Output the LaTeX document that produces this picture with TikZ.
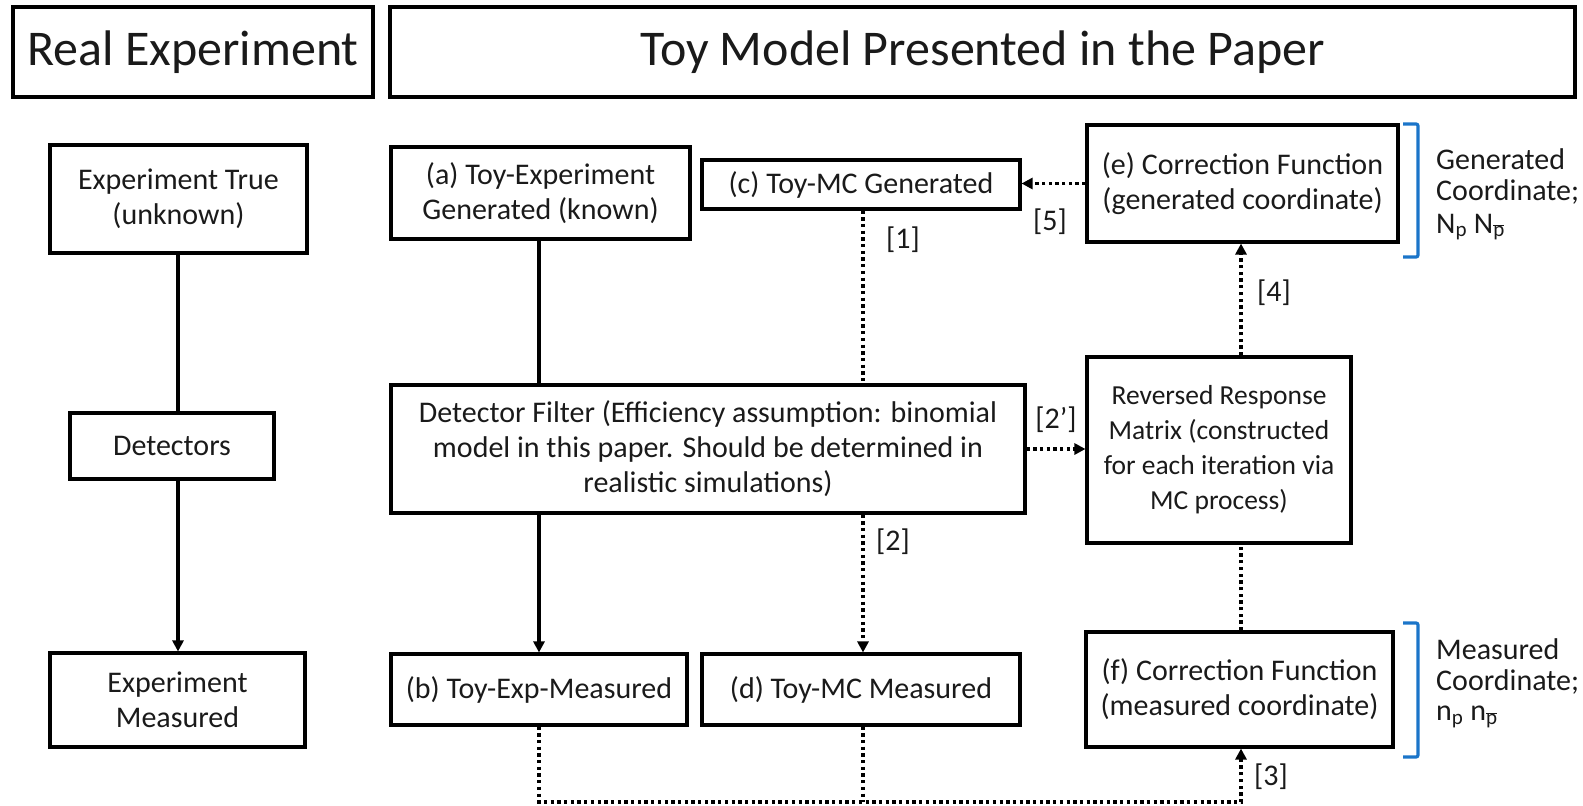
\documentclass[tikz,border=0pt]{standalone}
\usepackage{fontspec}
\setmainfont{Carlito}
\usetikzlibrary{arrows.meta}
\definecolor{brblue}{HTML}{1B75C9}
\definecolor{txt}{HTML}{1A1A1A}
\newcommand{\boxfont}{\fontsize{30}{35}\selectfont}
\newcommand{\rrmfont}{\fontsize{27.5}{35}\selectfont}
\newcommand{\hdrfont}{\fontsize{50}{60}\selectfont}
\tikzset{
  box/.style={draw, line width=3.1pt, inner sep=0pt, align=center, font=\boxfont, text=txt},
  hdr/.style={draw, line width=3.1pt, inner sep=0pt, align=center, font=\hdrfont, text=txt},
  solidc/.style={line width=3.3pt},
  dotc/.style={line width=3.3pt, dash pattern=on 3.3pt off 3.4pt},
  tip/.style={-{Triangle[length=11pt,width=11pt]}},
  lbl/.style={font=\boxfont, text=txt, inner sep=0pt},
  sidetxt/.style={font=\boxfont, text=txt, inner sep=0pt, anchor=west},
  brk/.style={draw=brblue, line width=3.2pt, rounded corners=2pt}
}
\begin{document}
\begin{tikzpicture}[x=1pt,y=-1pt]
\useasboundingbox (0,0) rectangle (1583,806);
% headers
\node[hdr, minimum width=360pt, minimum height=90pt] (realhdr) at (193,52) {Real Experiment};
\node[hdr, minimum width=1185pt, minimum height=90pt] (toyhdr) at (982.5,52) {Toy Model Presented in the Paper};
% real experiment column
\node[box, minimum width=257pt, minimum height=108pt] (exptrue) at (178.5,199) {Experiment True\\(unknown)};
\node[box, minimum width=204pt, minimum height=66pt] (det) at (172,446) {Detectors};
\node[box, minimum width=255pt, minimum height=94pt] (expmeas) at (177.5,700) {Experiment\\Measured};
% toy model
\node[box, minimum width=299pt, minimum height=92pt] (a) at (540.5,193) {(a) Toy-Experiment\\Generated (known)};
\node[box, minimum width=318pt, minimum height=49pt] (c) at (861,184.5) {(c) Toy-MC Generated};
\node[box, minimum width=311pt, minimum height=117pt] (e) at (1242.5,183.5) {(e) Correction Function\\(generated coordinate)};
\node[box, minimum width=634pt, minimum height=128pt] (filt) at (708,449) {Detector Filter (Efficiency assumption: binomial\\model in this paper. Should be determined in\\realistic simulations)};
\node[box, font=\rrmfont, minimum width=264pt, minimum height=186pt] (rrm) at (1219,450) {Reversed Response\\Matrix (constructed\\for each iteration via\\MC process)};
\node[box, minimum width=296pt, minimum height=71pt] (b) at (539,689.5) {(b) Toy-Exp-Measured};
\node[box, minimum width=318pt, minimum height=71pt] (d) at (861,689.5) {(d) Toy-MC Measured};
\node[box, minimum width=307pt, minimum height=115pt] (f) at (1239.5,689.5) {(f) Correction Function\\(measured coordinate)};
% coordinates for connector columns
\coordinate (xr) at (178,0);
\coordinate (xa) at (539,0);
\coordinate (xc) at (863,0);
\coordinate (xe) at (1241,0);
\coordinate (ybot) at (0,802);
% real experiment connectors
\draw[solidc] (xr |- exptrue.south) -- (xr |- det.north);
\draw[solidc, tip] (xr |- det.south) -- (xr |- expmeas.north);
% toy solid
\draw[solidc] (xa |- a.south) -- (xa |- filt.north);
\draw[solidc, tip] (xa |- filt.south) -- (xa |- b.north);
% dotted
\draw[dotc] (xc |- c.south) -- (xc |- filt.north);
\draw[dotc, tip] (xc |- filt.south) -- (xc |- d.north);
\draw[dotc, tip] (filt.east) -- (rrm.west |- filt.east);
\draw[dotc, tip] (xe |- rrm.north) -- (xe |- e.south);
\draw[dotc, tip] (e.west) -- (c.east |- e.west);
\draw[dotc] (xe |- f.north) -- (xe |- rrm.south);
\draw[dotc, tip] (xa |- b.south) -- (xa |- ybot) -- (xe |- ybot) -- (xe |- f.south);
\draw[dotc] (xc |- d.south) -- (xc |- ybot);
% labels
\node[lbl] (l1) at (903,240) {[1]};
\node[lbl] (l2) at (893,542) {[2]};
\node[lbl] (l2p) at (1056,420) {[2’]};
\node[lbl] (l3) at (1271,777) {[3]};
\node[lbl] (l4) at (1274,293) {[4]};
\node[lbl] (l5) at (1050,222) {[5]};
% brackets
\coordinate (be1) at (1403,124);
\coordinate (be2) at (1403,257);
\draw[brk] (be1) -- (1418,124) -- (1418,257) -- (be2);
\coordinate (bf1) at (1403,623);
\coordinate (bf2) at (1403,757);
\draw[brk] (bf1) -- (1418,623) -- (1418,757) -- (bf2);
% side texts
\node[sidetxt] (g1) at (1436,159) {Generated};
\node[sidetxt] (g2) at (1436,192) {Coordinate;};
\node[sidetxt] (g3) at (1436,227) {N\textsubscript{p} N\textsubscript{$\overline{\mbox{p}}$}};
\node[sidetxt] (m1) at (1436,649) {Measured};
\node[sidetxt] (m2) at (1436,682) {Coordinate;};
\node[sidetxt] (m3) at (1436,717) {n\textsubscript{p} n\textsubscript{$\overline{\mbox{p}}$}};
\end{tikzpicture}
\end{document}
